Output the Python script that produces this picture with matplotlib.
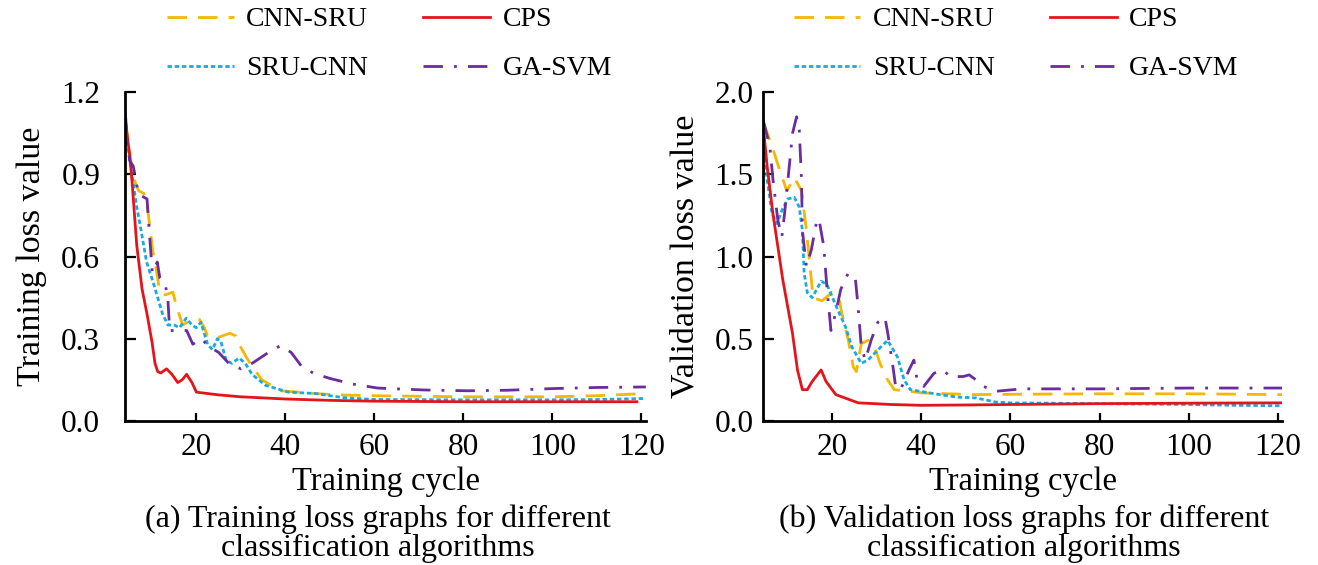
import matplotlib
matplotlib.use("Agg")
import matplotlib.pyplot as plt

plt.rcParams['font.family'] = ['Liberation Serif', 'DejaVu Serif']

# (a) training loss
tr_cps_x = [4, 5, 5.5, 6.6, 7.8, 8.9, 10, 10.7, 11.3, 12, 13.3, 14.5, 15.8, 16.8, 17.8, 19, 20, 25, 30, 40, 50, 60, 80, 100, 119]
tr_cps_y = [1.10, 0.97, 0.88, 0.64, 0.48, 0.39, 0.29, 0.21, 0.18, 0.175, 0.19, 0.17, 0.14, 0.15, 0.17, 0.14, 0.105, 0.095, 0.088, 0.08, 0.075, 0.072, 0.07, 0.07, 0.07]

tr_cnnsru_x = [4, 5, 5.8, 7, 8.2, 9, 9.6, 10.2, 11, 11.8, 13, 14.7, 15.5, 16.9, 18, 19.5, 20.7, 21.8, 22.5, 24, 25.8, 27.5, 28.9, 29.6, 31.3, 32.5, 34.7, 39, 46.7, 52, 60, 80, 100, 110, 121]
tr_cnnsru_y = [1.10, 0.98, 0.89, 0.84, 0.83, 0.78, 0.70, 0.62, 0.55, 0.47, 0.46, 0.47, 0.42, 0.35, 0.36, 0.37, 0.37, 0.34, 0.31, 0.30, 0.31, 0.32, 0.31, 0.28, 0.23, 0.20, 0.15, 0.11, 0.10, 0.095, 0.092, 0.088, 0.088, 0.092, 0.10]

tr_srucnn_x = [4, 4.6, 5.5, 6.6, 7.3, 8.8, 10.2, 11.3, 12.4, 13.6, 15, 16.2, 17.7, 19, 20, 21, 22.5, 23.6, 24.7, 25.5, 26.7, 28, 29.6, 31, 32.5, 35.5, 40.7, 46.7, 53, 60, 80, 100, 110, 121]
tr_srucnn_y = [1.10, 1.00, 0.90, 0.78, 0.72, 0.58, 0.51, 0.45, 0.39, 0.35, 0.35, 0.34, 0.375, 0.35, 0.34, 0.36, 0.28, 0.26, 0.30, 0.29, 0.22, 0.21, 0.23, 0.21, 0.17, 0.13, 0.105, 0.10, 0.085, 0.078, 0.077, 0.077, 0.078, 0.082]

tr_gasvm_x = [4, 4.5, 5, 5.8, 6.4, 6.9, 7.8, 8.9, 9.2, 9.6, 10.1, 11.2, 11.8, 13, 13.6, 14, 16, 17.8, 19.2, 21, 23, 25, 27.3, 30, 32.5, 36.2, 38.9, 41.3, 43.6, 46.2, 50, 55, 60.7, 71, 81, 90, 100, 110, 121]
tr_gasvm_y = [1.13, 1.02, 0.95, 0.93, 0.88, 0.83, 0.82, 0.81, 0.74, 0.65, 0.54, 0.58, 0.52, 0.50, 0.44, 0.33, 0.33, 0.33, 0.28, 0.30, 0.27, 0.25, 0.21, 0.19, 0.21, 0.25, 0.275, 0.25, 0.20, 0.175, 0.155, 0.135, 0.12, 0.113, 0.11, 0.112, 0.118, 0.122, 0.124]

# (b) validation loss
va_cps_x = [4.6, 5.5, 6.8, 9, 11.2, 12.3, 13.4, 14.5, 15.6, 17.6, 18.7, 20.9, 25.9, 33.2, 40, 50, 60, 80, 100, 121]
va_cps_y = [1.80, 1.55, 1.26, 0.86, 0.53, 0.31, 0.19, 0.19, 0.24, 0.31, 0.24, 0.16, 0.11, 0.10, 0.095, 0.097, 0.10, 0.105, 0.108, 0.11]

va_cnnsru_x = [4.6, 6.6, 7.9, 9.9, 11.6, 13.2, 14.3, 15.4, 15.8, 17.8, 20, 21.5, 22.2, 23.7, 24.8, 25.5, 26.6, 28.1, 29.6, 30.8, 32.5, 34, 40.6, 51.6, 60, 80, 100, 121]
va_cnnsru_y = [1.82, 1.67, 1.56, 1.40, 1.48, 1.40, 1.16, 0.86, 0.75, 0.73, 0.78, 0.76, 0.66, 0.49, 0.33, 0.30, 0.47, 0.49, 0.45, 0.35, 0.25, 0.19, 0.17, 0.16, 0.162, 0.165, 0.165, 0.16]

va_srucnn_x = [4.6, 5, 5.5, 6.6, 7.7, 8.8, 10.1, 11.6, 12.7, 13.4, 13.8, 14.5, 15.6, 17.6, 18.9, 21.1, 23.1, 24.5, 26.6, 28.1, 31, 32.5, 34.7, 36.2, 37.6, 44.2, 48, 52.3, 56.7, 60, 80, 100, 110, 121]
va_srucnn_y = [1.82, 1.65, 1.47, 1.26, 1.20, 1.28, 1.35, 1.36, 1.30, 1.16, 0.90, 0.78, 0.75, 0.85, 0.83, 0.69, 0.57, 0.45, 0.35, 0.37, 0.45, 0.49, 0.39, 0.25, 0.19, 0.16, 0.145, 0.14, 0.115, 0.11, 0.105, 0.10, 0.095, 0.092]

va_gasvm_x = [4.6, 6.1, 6.8, 7.9, 8.8, 9.4, 10.1, 11.2, 12.1, 12.7, 13.2, 13.4, 14.3, 15.4, 16.5, 17.1, 18.2, 18.9, 19.8, 20.9, 22, 23.7, 25.3, 25.9, 26.6, 27.5, 28.8, 30.3, 31.9, 32.5, 33.6, 34.3, 35.4, 37.3, 38.4, 39.1, 40.6, 42.9, 45, 46.4, 49.4, 50.8, 52.3, 54, 56.7, 62.6, 80, 100, 121]
va_gasvm_y = [1.83, 1.67, 1.47, 1.22, 1.12, 1.26, 1.45, 1.75, 1.85, 1.77, 1.47, 1.16, 0.94, 1.04, 1.20, 1.23, 1.06, 0.81, 0.55, 0.66, 0.80, 0.90, 0.86, 0.69, 0.45, 0.37, 0.49, 0.60, 0.63, 0.54, 0.35, 0.21, 0.19, 0.31, 0.37, 0.25, 0.21, 0.29, 0.31, 0.27, 0.27, 0.28, 0.25, 0.21, 0.18, 0.195, 0.195, 0.20, 0.20]

x_ticks = [20, 40, 60, 80, 100, 120]
tr_yticks = [0.0, 0.3, 0.6, 0.9, 1.2]
va_yticks = [0.0, 0.5, 1.0, 1.5, 2.0]

c_yel = '#F5B700'
c_red = '#E3151B'
c_blu = '#1BA9E1'
c_pur = '#6A2C9F'
lw = 2.0

fig = plt.figure(figsize=(13.18, 5.65), dpi=100)
ax1 = fig.add_axes([0.095, 0.255, 0.395, 0.582])
ax2 = fig.add_axes([0.579, 0.255, 0.394, 0.582])

panels = [
    (ax1, tr_cnnsru_x, tr_cnnsru_y, tr_srucnn_x, tr_srucnn_y, tr_cps_x, tr_cps_y, tr_gasvm_x, tr_gasvm_y,
     tr_yticks, (4, 121), 'Training loss value', 0.2955, 0.2865, 18,
     '(a) Training loss graphs for different\nclassification algorithms'),
    (ax2, va_cnnsru_x, va_cnnsru_y, va_srucnn_x, va_srucnn_y, va_cps_x, va_cps_y, va_gasvm_x, va_gasvm_y,
     va_yticks, (4.6, 121), 'Validation loss value', 0.771, 0.777, 7,
     '(b) Validation loss graphs for different\nclassification algorithms'),
]

for ax, ax_, ay_, bx_, by_, cx_, cy_, dx_, dy_, yt, xl, ylab, lgx, capx, ypad, cap in panels:
    l1, = ax.plot(ax_, ay_, color=c_yel, lw=lw, ls=(0, (7, 4)), label='CNN-SRU')
    l2, = ax.plot(bx_, by_, color=c_blu, lw=lw, ls=(0, (1.6, 1.0)), label='SRU-CNN')
    l3, = ax.plot(cx_, cy_, color=c_red, lw=lw, ls='-', label='CPS')
    l4, = ax.plot(dx_, dy_, color=c_pur, lw=lw, ls=(0, (7, 4, 1, 4)), label='GA-SVM')
    ax.set_xlim(*xl)
    ax.set_ylim(yt[0], yt[-1])
    ax.set_xticks(x_ticks)
    ax.set_yticks(yt)
    ax.set_yticklabels([f'{v:.1f}' for v in yt])
    for s in ['top', 'right']:
        ax.spines[s].set_visible(False)
    for s in ['left', 'bottom']:
        ax.spines[s].set_linewidth(2)
    ax.tick_params(axis='both', direction='in', labelsize=22.5, width=1.6)
    ax.tick_params(axis='y', length=8, pad=ypad)
    ax.tick_params(axis='x', length=5.5, pad=9)
    ax.set_xlabel('Training cycle', fontsize=23.5, labelpad=3)
    ax.set_ylabel(ylab, fontsize=24.5, labelpad=10)
    ax.legend(handles=[l1, l2, l3, l4], ncol=2, frameon=False, fontsize=20,
              loc='upper center', bbox_to_anchor=(lgx, 0.995), bbox_transform=fig.transFigure,
              handlelength=2.4, handletextpad=0.45, columnspacing=2.0, labelspacing=0.85,
              borderaxespad=0.0, borderpad=0.15)
    fig.text(capx, 0.055, cap, ha='center', va='center', fontsize=23, linespacing=1.0)

fig.savefig('out.png', dpi=100)
